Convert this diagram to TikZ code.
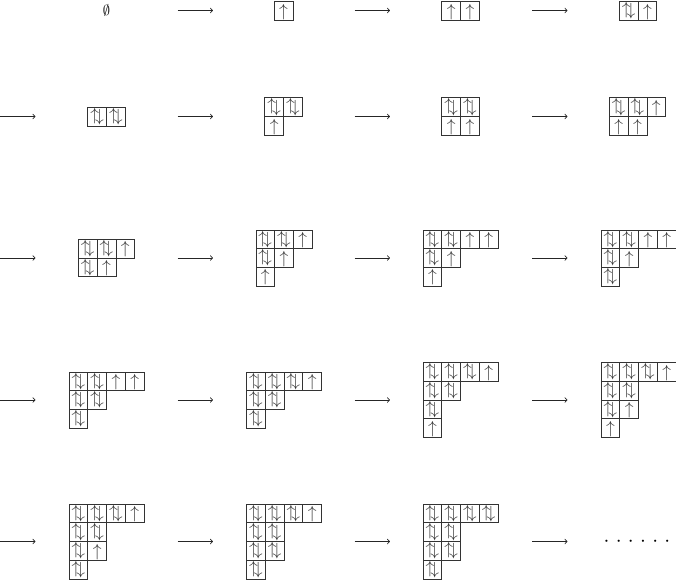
\documentclass[tikz,border=0pt]{standalone}
\usepackage{graphicx}
\usetikzlibrary{arrows.meta}
\tikzset{
  cellbox/.style={draw=black!80, line width=0.7pt, minimum size=18.75pt, inner sep=0pt, outer sep=0pt},
  spin/.style={inner sep=0pt, outer sep=0pt, font=\fontsize{10}{12}\selectfont, text=black!80},
  flow/.style={line width=0.7pt, draw=black!85, -{To[length=3pt,width=5.5pt]}},
  label/.style={inner sep=0pt, font=\fontsize{10}{12}\selectfont},
  dotlabel/.style={inner sep=0pt, font=\fontsize{10}{12}\selectfont, text=black},
}
\newcommand{\upsym}{\scalebox{1.75}{$\uparrow$}}
\newcommand{\dnsym}{\scalebox{1.75}{$\downarrow$}}
\newcommand{\ydrawU}[1]{\node[spin] (#1-up) at ([yshift=-0.8pt]#1) {\upsym};}
\newcommand{\ydrawD}[1]{%
  \node[spin] (#1-up) at ([xshift=-2.5pt,yshift=0.6pt]#1) {\upsym};
  \node[spin] (#1-dn) at ([xshift=2.3pt,yshift=-0.6pt]#1) {\dnsym};}
% \ydiag{name}{cx}{cy}{width}{height}{col/row/type list}
\newcommand{\ydiag}[6]{%
  \foreach \c/\r/\t in {#6}{%
    \node[cellbox] (#1-\c-\r) at ({#2-#4*9.375+(\c-0.5)*18.75},{#3-#5*9.375+(\r-0.5)*18.75}) {};
    \csname ydraw\t\endcsname{#1-\c-\r}
  }%
}
\begin{document}
\begin{tikzpicture}[x=1pt,y=-1pt]
\useasboundingbox (0,0) rectangle (676,580);

% row 1
\node[label] (d1) at (106.5,10.5) {\scalebox{1.45}{$\emptyset$}};
\ydiag{d2}{283.5}{11}{1}{1}{1/1/U}
\ydiag{d3}{460.5}{11}{2}{1}{1/1/U,2/1/U}
\ydiag{d4}{638}{11}{2}{1}{1/1/D,2/1/U}
% row 2
\ydiag{d5}{106.5}{116.5}{2}{1}{1/1/D,2/1/D}
\ydiag{d6}{283.5}{116.5}{2}{2}{1/1/D,2/1/D,1/2/U}
\ydiag{d7}{460.5}{116.5}{2}{2}{1/1/D,2/1/D,1/2/U,2/2/U}
\ydiag{d8}{637.5}{116.5}{3}{2}{1/1/D,2/1/D,3/1/U,1/2/U,2/2/U}
% row 3
\ydiag{d9}{106.5}{258}{3}{2}{1/1/D,2/1/D,3/1/U,1/2/D,2/2/U}
\ydiag{d10}{284}{258}{3}{3}{1/1/D,2/1/D,3/1/U,1/2/D,2/2/U,1/3/U}
\ydiag{d11}{460.5}{258}{4}{3}{1/1/D,2/1/D,3/1/U,4/1/U,1/2/D,2/2/U,1/3/U}
\ydiag{d12}{638.5}{258}{4}{3}{1/1/D,2/1/D,3/1/U,4/1/U,1/2/D,2/2/U,1/3/D}
% row 4
\ydiag{d13}{106.5}{400}{4}{3}{1/1/D,2/1/D,3/1/U,4/1/U,1/2/D,2/2/D,1/3/D}
\ydiag{d14}{284}{400}{4}{3}{1/1/D,2/1/D,3/1/D,4/1/U,1/2/D,2/2/D,1/3/D}
\ydiag{d15}{460.5}{400}{4}{4}{1/1/D,2/1/D,3/1/D,4/1/U,1/2/D,2/2/D,1/3/D,1/4/U}
\ydiag{d16}{638.5}{400}{4}{4}{1/1/D,2/1/D,3/1/D,4/1/U,1/2/D,2/2/D,1/3/D,2/3/U,1/4/U}
% row 5
\ydiag{d17}{106.5}{541.5}{4}{4}{1/1/D,2/1/D,3/1/D,4/1/U,1/2/D,2/2/D,1/3/D,2/3/U,1/4/D}
\ydiag{d18}{284}{541.5}{4}{4}{1/1/D,2/1/D,3/1/D,4/1/U,1/2/D,2/2/D,1/3/D,2/3/D,1/4/D}
\ydiag{d19}{460.5}{541.5}{4}{4}{1/1/D,2/1/D,3/1/D,4/1/D,1/2/D,2/2/D,1/3/D,2/3/D,1/4/D}
\node[dotlabel] (d20) at (637,541.5) {\scalebox{2.1}{$\cdotp\hskip1.35pt\cdotp\hskip1.35pt\cdotp\hskip1.35pt\cdotp\hskip1.35pt\cdotp\hskip1.35pt\cdotp$}};

% arrows
\foreach \ry/\rn in {10.5/1,116.5/2,258/3,400/4,541.5/5}{
  \foreach \sx/\cn in {0/1,177.5/2,354.5/3,532/4}{
    \coordinate (a\rn-\cn-s) at (\sx,\ry);
    \coordinate (a\rn-\cn-e) at (\sx+35.5,\ry);
  }
}
\foreach \rn in {2,3,4,5}{
  \draw[flow] (a\rn-1-s) -- (a\rn-1-e);
}
\foreach \rn in {1,2,3,4,5}{
  \foreach \cn in {2,3,4}{
    \draw[flow] (a\rn-\cn-s) -- (a\rn-\cn-e);
  }
}
\end{tikzpicture}
\end{document}
